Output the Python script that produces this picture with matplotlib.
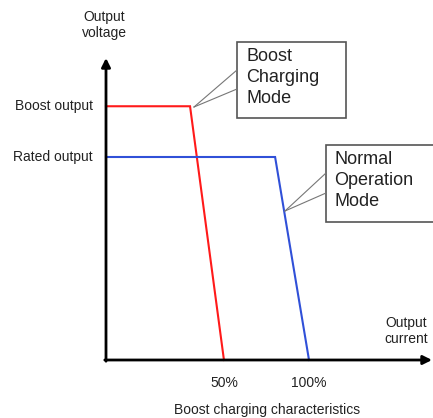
import matplotlib.pyplot as plt
from matplotlib.patches import Rectangle

plt.rcParams['font.family'] = ['Liberation Sans', 'DejaVu Sans']

# schematic data (current in arbitrary units, voltage in % of rated)
boost_current = [0, 41.4, 58.1]
boost_voltage = [125, 125, 0]
normal_current = [0, 83.3, 100]
normal_voltage = [100, 100, 0]
tick_current = [58.1, 100]
tick_labels = ['50%', '100%']
level_voltage = [125, 100]
level_labels = ['Boost output', 'Rated output']

# pixel layout helpers (figure 433x418 px, origin at px (106, 360))
S = 2.03
X0, Y0 = 106, 360
W, H = 433, 418


def px(x, y):
    return ((x - X0) / S, (Y0 - y) / S)


fig = plt.figure(figsize=(4.33, 4.18), dpi=100)
ax = fig.add_axes([0, 0, 1, 1])
ax.set_xlim(-X0 / S, (W - X0) / S)
ax.set_ylim((Y0 - H) / S, Y0 / S)
ax.axis('off')

txt = '#222222'

# curves
ax.plot(boost_current, boost_voltage, color='#ff1a1a', lw=1.5, solid_joinstyle='miter', zorder=3)
ax.plot(normal_current, normal_voltage, color='#3050d8', lw=1.5, solid_joinstyle='miter', zorder=3)

# axes with arrows
arrow = dict(arrowstyle='-|>', lw=2.0, color='black', mutation_scale=13, shrinkA=0, shrinkB=0)
ax.annotate('', xy=px(106, 58), xytext=(0, -0.6), arrowprops=arrow,
            annotation_clip=False, zorder=4)
ax.annotate('', xy=px(432, 360), xytext=(-0.6, 0), arrowprops=arrow,
            annotation_clip=False, zorder=4)

# ticks and level labels
for c, lab in zip(tick_current, tick_labels):
    ax.text(c, px(0, 383)[1], lab, ha='center', va='center', fontsize=10, color=txt)
for v, lab in zip(level_voltage, level_labels):
    ax.text(px(93, 0)[0], v, lab, ha='right', va='center', fontsize=10, color=txt)

ax.text(*px(104, 25), 'Output\nvoltage', ha='center', va='center', fontsize=10,
        color=txt, linespacing=1.1)
ax.text(*px(406, 331), 'Output\ncurrent', ha='center', va='center', fontsize=10,
        color=txt, linespacing=1.1)
ax.text(*px(267, 410), 'Boost charging characteristics', ha='center', va='center',
        fontsize=10, color=txt)

# callout boxes
box_col = '#555555'


def callout(left, top, right, bottom, wedge, tip, label, tx, ty):
    x0, y0 = px(left, bottom)
    x1, y1 = px(right, top)
    ax.add_patch(Rectangle((x0, y0), x1 - x0, y1 - y0, fill=True, fc='white',
                           ec=box_col, lw=1.2, zorder=5))
    for wy in wedge:
        a = px(left, wy)
        b = px(*tip)
        ax.plot([a[0], b[0]], [a[1], b[1]], color='#777777', lw=0.8, zorder=5)
    ax.text(*px(tx, ty), label, ha='left', va='top', fontsize=13, color=txt,
            linespacing=1.32, zorder=6)


callout(237, 42, 346, 118, (70, 89), (194, 107), 'Boost\nCharging\nMode', 246, 48)
callout(326, 145, 440, 222, (173, 193), (285, 211), 'Normal\nOperation\nMode', 334, 151)

fig.savefig('out.png', dpi=100)
